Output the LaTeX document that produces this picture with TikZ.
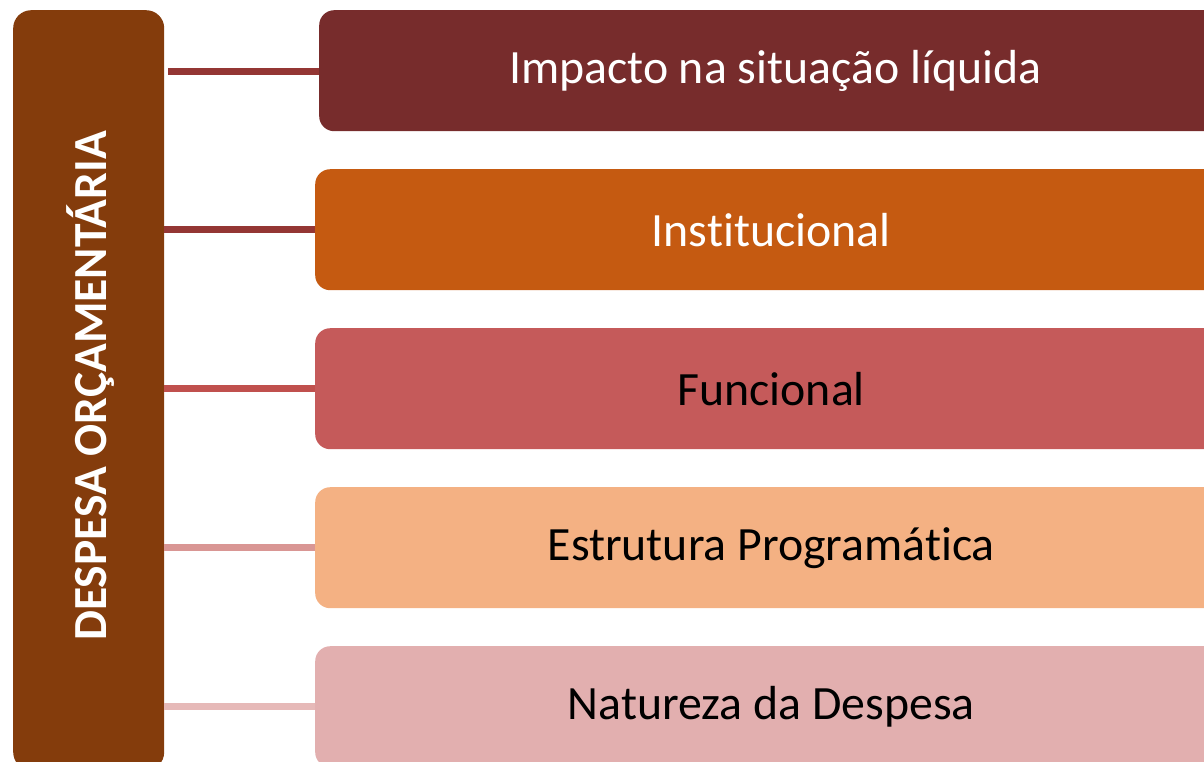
\documentclass[tikz,border=0pt]{standalone}
\usepackage{fontspec}
\setmainfont[RawFeature=-liga]{Carlito}
\definecolor{barc}{HTML}{843C0C}
\definecolor{bA}{HTML}{772C2C}
\definecolor{bB}{HTML}{C55A11}
\definecolor{bC}{HTML}{C55A5A}
\definecolor{bD}{HTML}{F4B183}
\definecolor{bE}{HTML}{E2AFAF}
\definecolor{lA}{HTML}{943634}
\definecolor{lC}{HTML}{C0504D}
\definecolor{lD}{HTML}{D99694}
\definecolor{lE}{HTML}{E6B9B8}
\begin{document}
\begin{tikzpicture}[x=1pt,y=-1pt,
  itembox/.style={rounded corners=15pt,inner sep=0pt,minimum width=912pt,minimum height=121pt,anchor=north west,font=\fontsize{47.8}{52}\selectfont},
  link/.style={line width=7pt}]
\useasboundingbox (0,0) rectangle (1204,761);
\node[fill=barc,rounded corners=18pt,minimum width=151pt,minimum height=760pt,anchor=north west,inner sep=0pt] (bar) at (13,10) {};
\node[rotate=90,text=white,font=\fontsize{47.5}{52}\selectfont\bfseries] (bartext) at (91,386) {DESPESA ORÇAMENTÁRIA};
\node[itembox,fill=bA,text=white] (n1) at (319,10) {Impacto na situação líquida};
\node[itembox,fill=bB,text=white] (n2) at (315,169) {Institucional};
\node[itembox,fill=bC,text=black] (n3) at (315,328) {Funcional};
\node[itembox,fill=bD,text=black] (n4) at (315,487) {Estrutura Programática};
\node[itembox,fill=bE,text=black] (n5) at (315,646) {Natureza da Despesa};
\coordinate (s1) at (168,71);
\draw[link,lA] (s1) -- (n1.west |- s1);
\draw[link,lA] (bar.east |- n2.west) -- (n2.west);
\draw[link,lC] (bar.east |- n3.west) -- (n3.west);
\draw[link,lD] (bar.east |- n4.west) -- (n4.west);
\draw[link,lE] (bar.east |- n5.west) -- (n5.west);
\end{tikzpicture}
\end{document}
